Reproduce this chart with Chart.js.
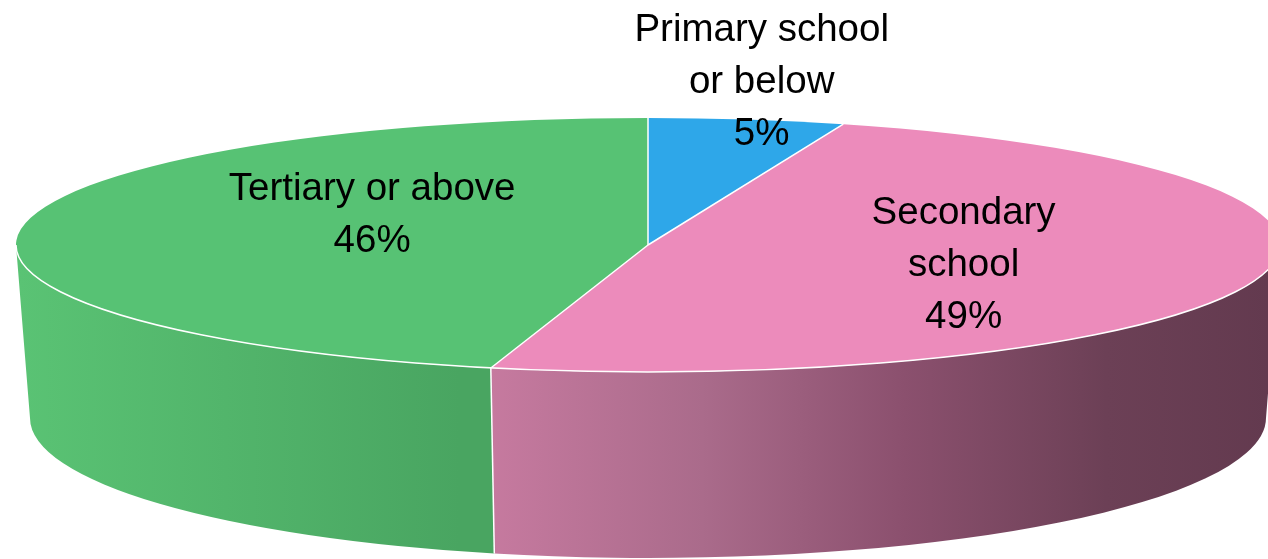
<!DOCTYPE html>
<html>
<head>
<meta charset="utf-8">
<script src="https://cdn.jsdelivr.net/npm/chart.js@4.4.1/dist/chart.umd.min.js"></script>
<style>
  html, body { margin: 0; padding: 0; background: #fff; }
  .wrap { width: 1268px; height: 559px; position: relative; }
</style>
</head>
<body>
<div class="wrap"><canvas id="pieChart"></canvas></div>
<script>
const categories = ['Primary school or below', 'Secondary school', 'Tertiary or above']
const labelLines = [['Primary school', 'or below'], ['Secondary', 'school'], ['Tertiary or above']]
const shares = [5, 49, 46]
const topColors = ['#2ea7e9', '#ec8bbb', '#57c274']

// 3d look: ellipse of the top face and the wall below it
const CX = 648, CY = 245, RX = 632, RY = 127
const BX = 648, BY = 418, BRX = 618, BRY = 140
const labelRadius = [1.15, 0.52, 0.44]
const labelShift = [-18, 2, -23]

function sideFill(ctx, i) {
    let g
    if (i === 1) {
        g = ctx.createLinearGradient(460, 0, 1268, 0)
        g.addColorStop(0, '#ca7ca2')
        g.addColorStop(0.3, '#aa6b8b')
        g.addColorStop(0.55, '#8b506e')
        g.addColorStop(0.8, '#6c4056')
        g.addColorStop(1, '#633a4f')
    } else if (i === 2) {
        g = ctx.createLinearGradient(18, 0, 460, 0)
        g.addColorStop(0, '#5ac374')
        g.addColorStop(1, '#49a561')
    } else {
        g = '#2588c0'
    }
    return g
}

const pie3d = {
    id: 'pie3d',
    beforeDatasetsDraw(chart) {
        const ctx = chart.ctx
        const arcs = chart.getDatasetMeta(0).data
        arcs.forEach((arc, i) => {
            const a = Math.max(arc.startAngle, 0)
            const b = Math.min(arc.endAngle, Math.PI)
            if (b <= a) return
            ctx.beginPath()
            ctx.ellipse(CX, CY, RX, RY, 0, a, b, false)
            ctx.lineTo(BX + BRX * Math.cos(b), BY + BRY * Math.sin(b))
            ctx.ellipse(BX, BY, BRX, BRY, 0, b, a, true)
            ctx.closePath()
            ctx.fillStyle = sideFill(ctx, i)
            ctx.fill()
        })
        const a0 = arcs[0]
        ctx.save()
        ctx.translate(CX, CY)
        ctx.scale(RX / a0.outerRadius, RY / a0.outerRadius)
        ctx.translate(-a0.x, -a0.y)
    },
    afterDatasetsDraw(chart) {
        const ctx = chart.ctx
        ctx.restore()
        const arcs = chart.getDatasetMeta(0).data

        ctx.save()
        ctx.strokeStyle = '#ffffff'
        ctx.lineWidth = 1.5
        // front rim
        ctx.beginPath()
        ctx.ellipse(CX, CY, RX, RY, 0, 0, Math.PI, false)
        ctx.stroke()
        arcs.forEach(arc => {
            const t = arc.startAngle
            ctx.beginPath()
            ctx.moveTo(CX, CY)
            ctx.lineTo(CX + RX * Math.cos(t), CY + RY * Math.sin(t))
            ctx.stroke()
            const n = ((t % (2 * Math.PI)) + 2 * Math.PI) % (2 * Math.PI)
            if (n > 0 && n < Math.PI) {
                ctx.beginPath()
                ctx.moveTo(CX + RX * Math.cos(n), CY + RY * Math.sin(n))
                ctx.lineTo(BX + BRX * Math.cos(n), BY + BRY * Math.sin(n))
                ctx.stroke()
            }
        })
        ctx.restore()

        // data labels
        ctx.save()
        ctx.fillStyle = '#000000'
        ctx.font = '38.5px "Liberation Sans", Arial, sans-serif'
        ctx.textAlign = 'center'
        ctx.textBaseline = 'middle'
        arcs.forEach((arc, i) => {
            const mid = (arc.startAngle + arc.endAngle) / 2
            const x = CX + RX * labelRadius[i] * Math.cos(mid)
            const y = CY + RY * labelRadius[i] * Math.sin(mid) + labelShift[i]
            const lines = labelLines[i].concat([shares[i] + '%'])
            const lh = 52
            lines.forEach((txt, k) => {
                ctx.fillText(txt, x, y + (k - (lines.length - 1) / 2) * lh)
            })
        })
        ctx.restore()
    }
}

new Chart(document.getElementById('pieChart'), {
    type: 'pie',
    data: {
        labels: categories,
        datasets: [{
            data: shares,
            backgroundColor: topColors,
            borderWidth: 0,
            clip: false
        }]
    },
    options: {
        responsive: true,
        maintainAspectRatio: false,
        animation: false,
        events: [],
        layout: { padding: 0 },
        plugins: {
            legend: { display: false },
            tooltip: { enabled: false }
        }
    },
    plugins: [pie3d]
})
</script>
</body>
</html>
